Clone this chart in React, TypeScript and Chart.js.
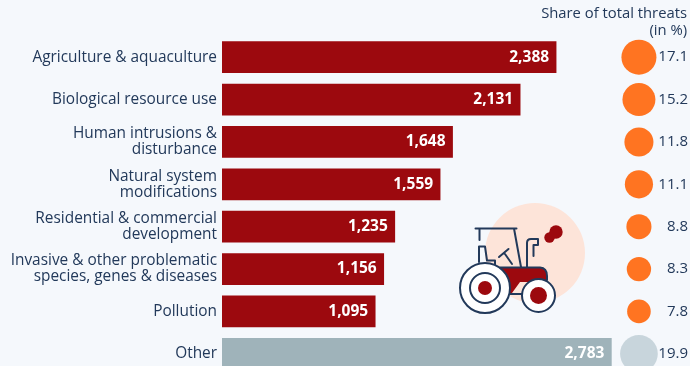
import React, { useEffect, useRef } from "react";
import { Chart, registerables } from "chart.js";

Chart.register(...registerables);

const categories = [
  ["Agriculture & aquaculture"],
  ["Biological resource use"],
  ["Human intrusions &", "disturbance"],
  ["Natural system", "modifications"],
  ["Residential & commercial", "development"],
  ["Invasive & other problematic", "species, genes & diseases"],
  ["Pollution"],
  ["Other"],
];
const threats = [2388, 2131, 1648, 1559, 1235, 1156, 1095, 2783];
const shares = [17.1, 15.2, 11.8, 11.1, 8.8, 8.3, 7.8, 19.9];

const INK = "#22395a";
const BG = "#f5f8fc";
const RED = "#9c090e";
const FONT = '"Open Sans", sans-serif';
const SHARE_COLUMN = 2980;
const BUBBLE_SCALE = 4.23;

const isOther = (i: number) => i === categories.length - 1;

// Value labels inside the bars and share figures beside the bubbles.
const labelsPlugin = {
  id: "labels",
  afterDatasetsDraw(chart: any) {
    const { ctx } = chart;
    const bars = chart.getDatasetMeta(0).data;
    ctx.save();
    ctx.textBaseline = "middle";
    ctx.textAlign = "right";
    bars.forEach((bar: any, i: number) => {
      ctx.font = `700 15.5px ${FONT}`;
      ctx.fillStyle = "#ffffff";
      ctx.fillText(threats[i].toLocaleString("en-US"), bar.x - 7, bar.y);
      ctx.font = `400 15px ${FONT}`;
      ctx.fillStyle = INK;
      ctx.fillText(String(shares[i]), 688, bar.y);
    });
    ctx.font = `400 14.8px ${FONT}`;
    ctx.fillStyle = INK;
    ctx.fillText("Share of total threats", 687, 14);
    ctx.fillText("(in %)", 687, 31);
    ctx.restore();
  },
};

// Tractor emblem in the free space right of the shorter bars.
const tractorPlugin = {
  id: "tractor",
  afterDatasetsDraw(chart: any) {
    const { ctx } = chart;
    const circle = (x: number, y: number, r: number, fill: string, stroke?: string) => {
      ctx.beginPath();
      ctx.arc(x, y, r, 0, Math.PI * 2);
      ctx.fillStyle = fill;
      ctx.fill();
      if (stroke) {
        ctx.strokeStyle = stroke;
        ctx.stroke();
      }
    };
    ctx.save();
    ctx.lineCap = "round";
    ctx.lineJoin = "round";
    circle(535, 253, 50, "#fde4d9");

    ctx.lineWidth = 2;
    ctx.strokeStyle = INK;
    ctx.stroke(
      new Path2D(
        "M475.5 228.5H516.5M479.5 228.5V240M514 228.5L521 267" +
          "M479 262V246.5H485L487 260.5H495V265" +
          "M499 257L508.5 249M505 254L512 264" +
          "M527 267V243Q527 239 531 239H538V245H533.5V256"
      )
    );

    ctx.fillStyle = RED;
    const body = new Path2D("M500 267.5H540Q547 268 547 276V282H520L512 293H500Z");
    ctx.fill(body);
    ctx.stroke(new Path2D("M500 267.5H540Q547 268 547 276V280"));
    ctx.stroke(new Path2D("M505 294H525"));

    circle(485, 288, 25, "#ffffff", INK);
    circle(485, 288, 15, "#ffffff", INK);
    circle(485, 288, 7, RED);
    circle(538.5, 295.5, 16.5, "#ffffff", INK);
    circle(538.5, 295.5, 8.5, RED);

    // Exhaust puff: two overlapping blobs with a filled neck.
    circle(556, 232, 6.7, RED);
    circle(549.5, 237.5, 5.2, RED);
    ctx.strokeStyle = RED;
    ctx.lineWidth = 8;
    ctx.stroke(new Path2D("M556 232L549.5 237.5"));
    ctx.restore();
  },
};

export default function App() {
  const ref = useRef<HTMLCanvasElement>(null);

  useEffect(() => {
    document.body.style.background = BG;
    const chart = new Chart(ref.current as HTMLCanvasElement, {
      type: "bar",
      data: {
        labels: categories as any,
        datasets: [
          {
            type: "bar",
            indexAxis: "y",
            data: threats,
            barThickness: 31,
            backgroundColor: threats.map((_, i) => (isOther(i) ? "#9fb3ba" : RED)),
          } as any,
          {
            type: "bubble",
            data: shares.map((s, i) => ({ x: SHARE_COLUMN, y: i, r: BUBBLE_SCALE * Math.sqrt(s) })),
            backgroundColor: shares.map((_, i) => (isOther(i) ? "#c8d5dc" : "#ff7421")),
            borderWidth: 0,
            hoverRadius: 0,
            clip: false,
          } as any,
        ],
      },
      options: {
        animation: false,
        responsive: false,
        layout: { autoPadding: false, padding: { top: 36, left: 0, right: 0, bottom: 0 } },
        plugins: { legend: { display: false }, tooltip: { enabled: false } },
        scales: {
          x: { type: "linear", min: 0, max: 3345, offset: false, display: false },
          y: {
            type: "category",
            offset: true,
            border: { display: false },
            grid: { display: false, drawTicks: false },
            afterFit: (scale: any) => {
              scale.width = 222;
            },
            ticks: {
              autoSkip: false,
              padding: 5,
              color: INK,
              font: { family: FONT, size: 15.4, lineHeight: 16 / 15.4 },
            },
          },
        },
      } as any,
      plugins: [labelsPlugin, tractorPlugin],
    });
    return () => chart.destroy();
  }, []);

  return (
    <div
      style={{
        position: "fixed",
        left: 0,
        top: 0,
        width: 690,
        height: 366,
        overflow: "hidden",
        background: BG,
      }}
    >
      <canvas ref={ref} width={690} height={388} style={{ display: "block" }} />
    </div>
  );
}
